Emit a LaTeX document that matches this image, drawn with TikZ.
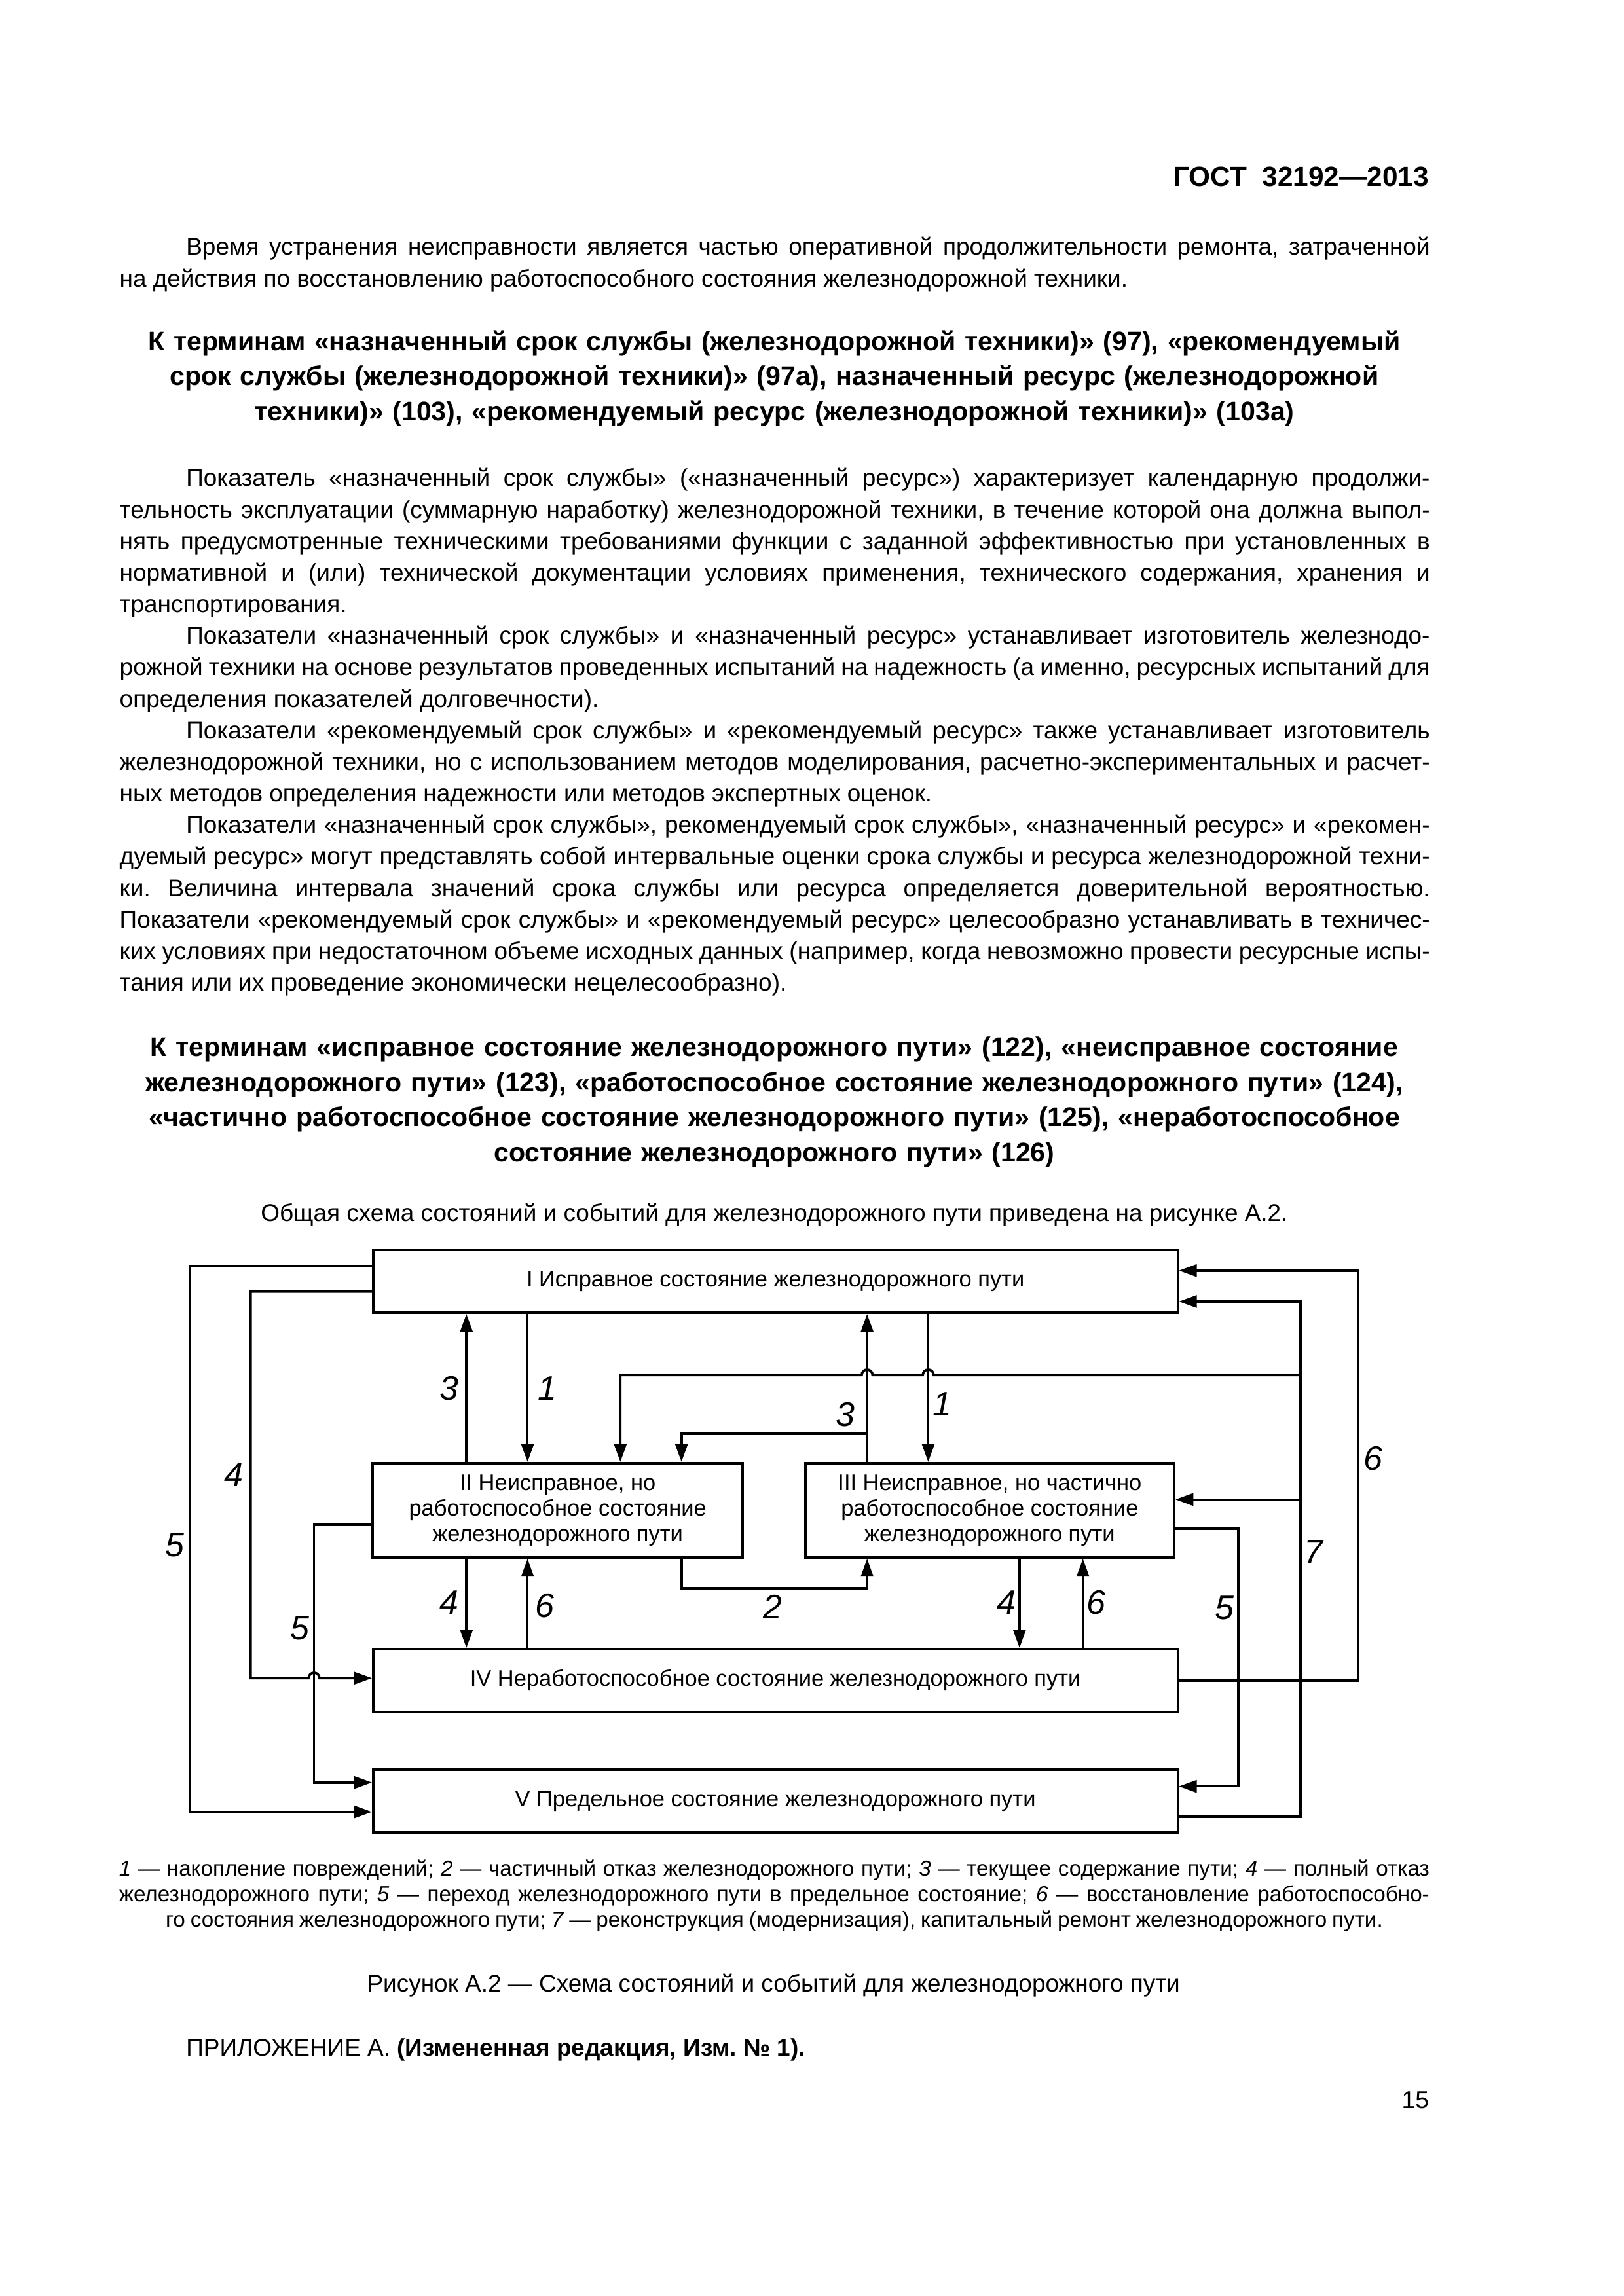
\documentclass[tikz,border=0pt]{standalone}
\usepackage{fontspec}
\setmainfont{Liberation Sans}
\usetikzlibrary{arrows.meta,positioning}
\tolerance=9000
\frenchspacing

\begin{document}
\begin{tikzpicture}[x=1mm,y=-1mm,>={Triangle[length=6.6pt,width=4.5pt]},
  state/.style={draw,line width=0.9pt,minimum width=104mm,minimum height=8.1mm,
                inner sep=1pt,align=center,font=\fontsize{8.3}{9.4}\selectfont},
  wire/.style={line width=0.9pt},
  num/.style={inner sep=0pt,font=\fontsize{12.5}{14}\selectfont\itshape},
  body/.style={anchor=base west,inner sep=0pt,text width=169.4mm,align=justify,
               font=\fontsize{8.9}{11.6}\selectfont},
  head/.style={anchor=base,inner sep=0pt,text width=169.4mm,align=center,
               font=\fontsize{9.9}{12.9}\selectfont\bfseries}]
  \useasboundingbox (0,0) rectangle (209.9,296.9);

  \node[anchor=base east,inner sep=0pt,font=\fontsize{10.2}{12}\selectfont\bfseries]
    (gost) at (184.8,24.1) {ГОСТ\ \ 32192—2013};
  \node[body,font=\fontsize{8.9}{11.8}\selectfont] (para1) at (15.4,33.0)
    {\hspace*{8.6mm}Время устранения неисправности является частью оперативной продолжительности ремонта, затраченной\linebreak
     на действия по восстановлению работоспособного состояния железнодорожной техники.};
  \node[head] (head1) at (100.1,45.3)
    {К терминам «назначенный срок службы (железнодорожной техники)» (97), «рекомендуемый\\
     срок службы (железнодорожной техники)» (97а), назначенный ресурс (железнодорожной\\
     техники)» (103), «рекомендуемый ресурс (железнодорожной техники)» (103а)};
  \node[body] (para2) at (15.4,62.9)
    {\hspace*{8.6mm}Показатель «назначенный срок службы» («назначенный ресурс») характеризует календарную продолжи-\linebreak
     тельность эксплуатации (суммарную наработку) железнодорожной техники, в течение которой она должна выпол-\linebreak
     нять предусмотренные техническими требованиями функции с заданной эффективностью при установленных в\linebreak
     нормативной и (или) технической документации условиях применения, технического содержания, хранения и\linebreak
     транспортирования.\par
     \hspace*{8.6mm}Показатели «назначенный срок службы» и «назначенный ресурс» устанавливает изготовитель железнодо-\linebreak
     рожной техники на основе результатов проведенных испытаний на надежность (а именно, ресурсных испытаний для\linebreak
     определения показателей долговечности).\par
     \hspace*{8.6mm}Показатели «рекомендуемый срок службы» и «рекомендуемый ресурс» также устанавливает изготовитель\linebreak
     железнодорожной техники, но с использованием методов моделирования, расчетно-экспериментальных и расчет-\linebreak
     ных методов определения надежности или методов экспертных оценок.\par
     \hspace*{8.6mm}Показатели «назначенный срок службы», рекомендуемый срок службы», «назначенный ресурс» и «рекомен-\linebreak
     дуемый ресурс» могут представлять собой интервальные оценки срока службы и ресурса железнодорожной техни-\linebreak
     ки. Величина интервала значений срока службы или ресурса определяется доверительной вероятностью.\linebreak
     Показатели «рекомендуемый срок службы» и «рекомендуемый ресурс» целесообразно устанавливать в техничес-\linebreak
     ких условиях при недостаточном объеме исходных данных (например, когда невозможно провести ресурсные испы-\linebreak
     тания или их проведение экономически нецелесообразно).};
  \node[head] (head2) at (100.1,136.6)
    {К терминам «исправное состояние железнодорожного пути» (122), «неисправное состояние\\
     железнодорожного пути» (123), «работоспособное состояние железнодорожного пути» (124),\\
     «частично работоспособное состояние железнодорожного пути» (125), «неработоспособное\\
     состояние железнодорожного пути» (126)};
  \node[anchor=base,inner sep=0pt,font=\fontsize{8.9}{11.6}\selectfont] (intro) at (100.1,157.9)
    {Общая схема состояний и событий для железнодорожного пути приведена на рисунке А.2.};

  \node[state] (s1) at (100.25,165.7) {I Исправное состояние железнодорожного пути};
  \node[state,minimum width=47.8mm,minimum height=12.2mm] (s2) at (72.1,195.3)
    {II Неисправное, но\\работоспособное состояние\\железнодорожного пути};
  \node[state,minimum width=47.7mm,minimum height=12.2mm] (s3) at (127.95,195.3)
    {III Неисправное, но частично\\работоспособное состояние\\железнодорожного пути};
  \node[state] (s4) at (100.25,217.3) {IV Неработоспособное состояние железнодорожного пути};
  \node[state] (s5) at (100.25,232.9) {V Предельное состояние железнодорожного пути};

  \coordinate (j7a) at (168.1,177.8);
  \coordinate (j7b) at (168.1,193.9);
  \coordinate (j3) at (112.1,185.4);

  \draw[wire,->] (s2.north -| 60.3,0) -- (s1.south -| 60.3,0);
  \draw[wire,->] (s1.south -| 68.2,0) -- (s2.north -| 68.2,0);
  \draw[wire,->] (s3.north -| j3) -- (s1.south -| j3);
  \draw[wire,->] (s1.south -| 120.0,0) -- (s3.north -| 120.0,0);
  \draw[wire,->] (j3) -| (s2.north -| 88.1,0);
  \draw[wire,->] (s2.south -| 88.1,0) |- (112.1,205.4) -- (s3.south -| 112.1,0);
  \draw[wire,->] (s2.south -| 60.3,0) -- (s4.north -| 60.3,0);
  \draw[wire,->] (s4.north -| 68.2,0) -- (s2.south -| 68.2,0);
  \draw[wire,->] (s3.south -| 131.8,0) -- (s4.north -| 131.8,0);
  \draw[wire,->] (s4.north -| 140.0,0) -- (s3.south -| 140.0,0);

  \draw[wire,->] (s1.west |- 0,163.7) -| (24.6,234.3) -- (s5.west |- 0,234.3);
  \draw[wire,->] (s1.west |- 0,167.0) -| (32.4,217.0) -- (39.9,217.0)
    arc[start angle=180,end angle=360,radius=0.7] -- (s4.west |- 0,217.0);
  \draw[wire,->] (s2.west |- 0,197.2) -| (40.6,230.5) -- (s5.west |- 0,230.5);

  \draw[wire,->] (s5.east |- 0,234.9) -| (168.1,168.3) -- (s1.east |- 0,168.3);
  \draw[wire,->] (j7b) -- (s3.east |- j7b);
  \draw[wire,->] (j7a) -- (120.7,177.8) arc[start angle=0,end angle=-180,radius=0.7]
    -- (112.8,177.8) arc[start angle=0,end angle=-180,radius=0.7]
    -- (80.2,177.8) -- (s2.north -| 80.2,0);
  \draw[wire,->] (s4.east |- 0,217.3) -| (175.6,164.3) -- (s1.east |- 0,164.3);
  \draw[wire,->] (s3.east |- 0,197.7) -| (160.1,231.0) -- (s5.east |- 0,231.0);

  \node[num] (n3a) at (58.1,179.5) {3};
  \node[num] (n1a) at (70.8,179.5) {1};
  \node[num] (n3b) at (109.3,182.9) {3};
  \node[num] (n1b) at (121.8,181.6) {1};
  \node[num] (n4a) at (30.2,190.7) {4};
  \node[num] (n5a) at (22.6,199.8) {5};
  \node[num] (n5b) at (38.8,210.5) {5};
  \node[num] (n4b) at (58.1,207.2) {4};
  \node[num] (n6a) at (70.4,207.6) {6};
  \node[num] (n2) at (99.9,207.8) {2};
  \node[num] (n4c) at (130.1,207.2) {4};
  \node[num] (n6b) at (141.7,207.2) {6};
  \node[num] (n5c) at (158.3,207.9) {5};
  \node[num] (n7) at (169.8,200.7) {7};
  \node[num] (n6c) at (177.5,188.6) {6};

  \node[anchor=base,inner sep=0pt,text width=169.4mm,font=\fontsize{8}{9.4}\selectfont] (key) at (100.1,242.6)
    {\spaceskip=0.24em plus 0.3em minus 0.1em
     \leftskip=0pt plus 1fil\rightskip=0pt plus -1fil\parfillskip=0pt plus 2fil
     \textit{1} — накопление повреждений; \textit{2} — частичный отказ железнодорожного пути; \textit{3} — текущее содержание пути; \textit{4} — полный отказ\linebreak
     железнодорожного пути; \textit{5} — переход железнодорожного пути в предельное состояние; \textit{6} — восстановление работоспособно-\linebreak
     го состояния железнодорожного пути; \textit{7} — реконструкция (модернизация), капитальный ремонт железнодорожного пути.\par};
  \node[anchor=base,inner sep=0pt,font=\fontsize{8.9}{11.6}\selectfont] (caption) at (100.0,257.6)
    {Рисунок А.2 — Схема состояний и событий для железнодорожного пути};
  \node[anchor=base west,inner sep=0pt,font=\fontsize{8.9}{11.6}\selectfont] (annex) at (24.0,265.9)
    {ПРИЛОЖЕНИЕ А. \textbf{(Измененная редакция, Изм. №~1).}};
  \node[anchor=base east,inner sep=0pt,font=\fontsize{9}{11}\selectfont] (pageno) at (184.8,272.6) {15};
\end{tikzpicture}
\end{document}
